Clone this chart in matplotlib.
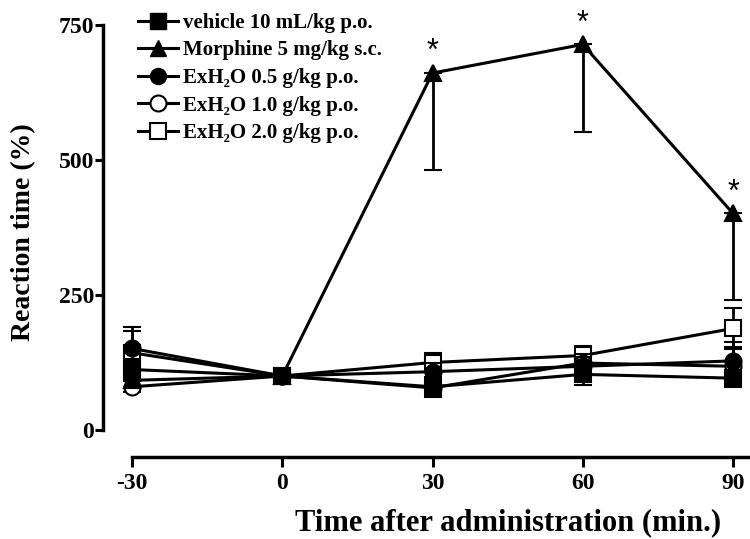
import matplotlib
matplotlib.use("Agg")
import matplotlib.pyplot as plt
from matplotlib.lines import Line2D

# ---- data ----
times = [-30, 0, 30, 60, 90]
vehicle = [112, 100, 80, 103, 96]
vehicle_err = [20, 0, 18, 20, 16]
morphine = [92, 100, 661, 714, 401]
morphine_err_low = [12, 0, 179, 162, 160]
exh2o_05 = [151, 100, 108, 118, 128]
exh2o_05_err = [40, 0, 16, 18, 35]
exh2o_10 = [80, 100, 78, 124, 118]
exh2o_10_err = [10, 0, 15, 16, 36]
exh2o_20 = [143, 100, 125, 138, 188]
exh2o_20_err = [40, 0, 18, 17, 38]
star_times = [30, 60, 90]
star_values = [661, 714, 401]

labels = ["vehicle 10 mL/kg p.o.", "Morphine 5 mg/kg s.c.",
          "ExH\u2082O 0.5 g/kg p.o.", "ExH\u2082O 1.0 g/kg p.o.",
          "ExH\u2082O 2.0 g/kg p.o."]
xticks = [-30, 0, 30, 60, 90]
yticks = [0, 250, 500, 750]

plt.rcParams['font.family'] = ['Liberation Serif', 'DejaVu Serif']
plt.rcParams['font.weight'] = 'bold'
plt.rcParams['axes.unicode_minus'] = False

W, H = 750, 539
fig = plt.figure(figsize=(W / 100, H / 100), dpi=100)
ax = fig.add_axes([103 / W, (H - 457) / H, (W - 103) / W, 457 / H])

LW = 2.2
MS = 11.5
EW = 2.0
CAP = 6.5

series = [
    (exh2o_20, [exh2o_20_err, exh2o_20_err], 's', 'white', 2),
    (exh2o_10, [exh2o_10_err, exh2o_10_err], 'o', 'white', 3),
    (morphine, [morphine_err_low, [0] * 5], '^', 'black', 4),
    (exh2o_05, [exh2o_05_err, exh2o_05_err], 'o', 'black', 5),
    (vehicle, [vehicle_err, vehicle_err], 's', 'black', 6),
]
for vals, err, mk, fc, z in series:
    ax.errorbar(times, vals, yerr=err, color='black', lw=LW, marker=mk,
                ms=MS, mfc=fc, mec='black', mew=1.5, elinewidth=EW,
                capsize=CAP, capthick=EW, zorder=z)

for t, v in zip(star_times, star_values):
    ax.annotate('*', (t, v), xytext=(0, 15), textcoords='offset points',
                ha='center', va='center', fontsize=22,
                family='Liberation Sans', fontweight='normal', zorder=10)

ax.set_xlim(-35.79, 93.39)
ax.set_ylim(-50, 796.3)
for s in ['top', 'right']:
    ax.spines[s].set_visible(False)
ax.spines['left'].set_bounds(0, 750)
ax.spines['bottom'].set_bounds(-30, 93.39)
ax.spines['left'].set_linewidth(2.5)
ax.spines['bottom'].set_linewidth(2.5)
ax.set_xticks(xticks)
ax.set_yticks(yticks)
ax.tick_params(axis='y', length=5.5, width=2.2, pad=1, labelsize=17)
ax.tick_params(axis='x', length=7.5, width=2.2, pad=4, labelsize=17)

ax.set_xlabel('Time after administration (min.)', fontsize=22,
              fontweight='bold')
ax.xaxis.set_label_coords((508 - 103) / (W - 103), -(530 - 457) / 457)
ax.xaxis.label.set_va('baseline')
ax.set_ylabel('Reaction time (%)', fontsize=20, fontweight='bold')
ax.yaxis.set_label_coords(-(103 - 24) / (W - 103), (457 - 232) / 457)
ax.yaxis.label.set_va('center')

handles = [
    Line2D([], [], color='black', lw=LW, marker='s', ms=MS, mfc='black'),
    Line2D([], [], color='black', lw=LW, marker='^', ms=MS, mfc='black'),
    Line2D([], [], color='black', lw=LW, marker='o', ms=MS, mfc='black'),
    Line2D([], [], color='black', lw=LW, marker='o', ms=MS, mfc='white', mew=1.5),
    Line2D([], [], color='black', lw=LW, marker='s', ms=MS, mfc='white', mew=1.5),
]
fig.legend(handles, labels, loc='upper left',
           bbox_to_anchor=(138 / W, 1 - 13 / H), frameon=False,
           borderpad=0, borderaxespad=0, handlelength=1.9,
           handletextpad=0.25, labelspacing=0.36,
           prop={'family': ['Liberation Serif', 'DejaVu Serif'],
                 'weight': 'bold', 'size': 15})

fig.savefig('out.png', dpi=100)
